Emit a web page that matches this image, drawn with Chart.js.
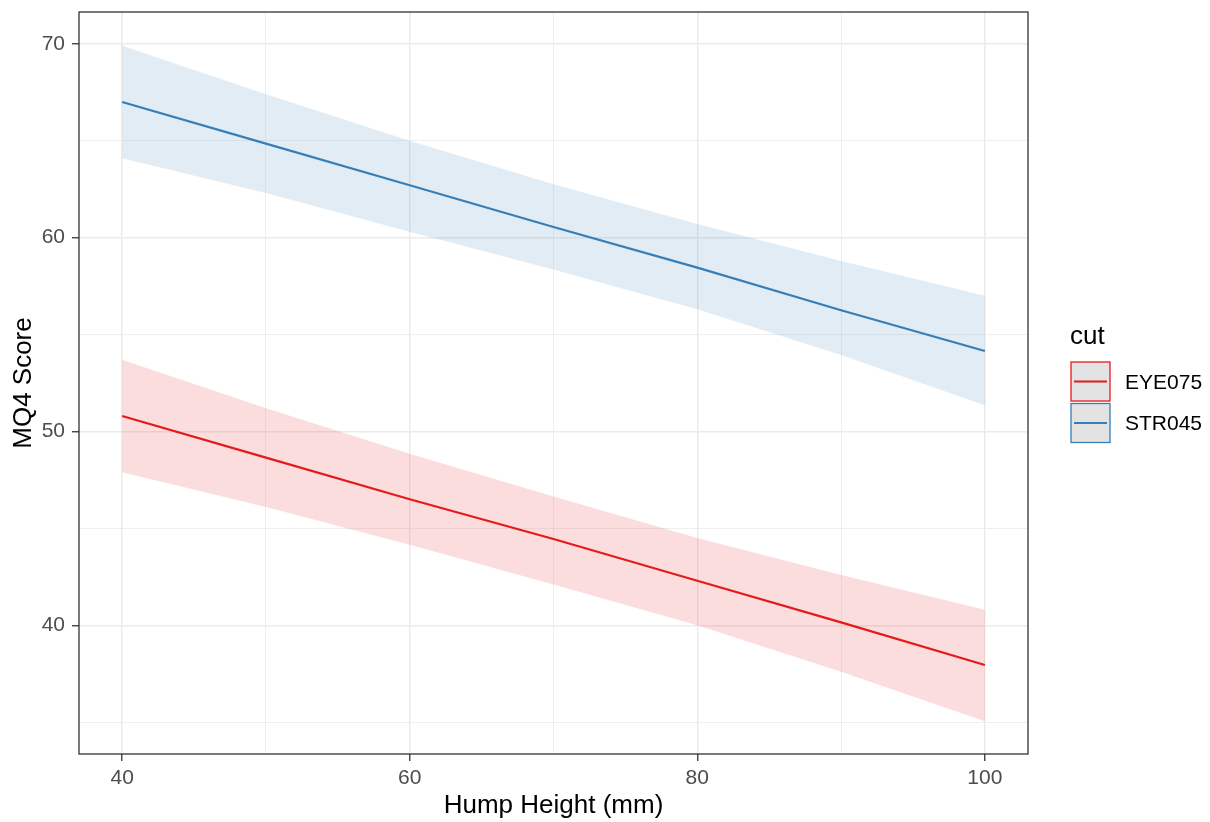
<!DOCTYPE html>
<html>
<head>
<meta charset="utf-8">
<script src="https://cdn.jsdelivr.net/npm/chart.js@4.4.1/dist/chart.umd.min.js"></script>
<style>
  html, body { margin: 0; padding: 0; background: #fff; }
  #wrap { width: 1210px; height: 822px; }
</style>
</head>
<body>
<div id="wrap"><canvas id="mq4Chart" width="1210" height="822"></canvas></div>
<script>
// Hump height (mm) at which the fitted values were read
const hump = [40, 50, 60, 70, 80, 90, 100];

// STR045: fitted line and confidence band
const strFit   = [67.0, 64.85, 62.7, 60.55, 58.45, 56.25, 54.15];
const strUpper = [69.9, 67.4, 65.0, 62.75, 60.7, 58.8, 57.0];
const strLower = [64.1, 62.3, 60.3, 58.35, 56.3, 53.95, 51.35];

// EYE075: fitted line and confidence band
const eyeFit   = [50.8, 48.65, 46.5, 44.45, 42.3, 40.15, 37.95];
const eyeUpper = [53.7, 51.2, 48.85, 46.65, 44.5, 42.6, 40.8];
const eyeLower = [47.9, 46.1, 44.15, 42.1, 40.0, 37.6, 35.05];

const xTicks = [40, 50, 60, 70, 80, 90, 100];
const yTicks = [35, 40, 45, 50, 55, 60, 65, 70];

const legendTitle = 'cut';
const legendItems = [
    { label: 'EYE075', color: '#e41a1c' },
    { label: 'STR045', color: '#377eb8' }
];

const FONT = '"Liberation Sans", Arial, sans-serif';

function pts(ys) {
    return hump.map((x, i) => ({ x: x, y: ys[i] }));
}

// panel border drawn over the data, like theme_bw
const panelBorder = {
    id: 'panelBorder',
    afterDatasetsDraw(chart) {
        const a = chart.chartArea;
        const ctx = chart.ctx;
        ctx.save();
        ctx.strokeStyle = '#333333';
        ctx.lineWidth = 1.3;
        ctx.strokeRect(a.left, a.top, a.right - a.left, a.bottom - a.top);
        ctx.restore();
    }
};

// ggplot style legend on the right
const sideLegend = {
    id: 'sideLegend',
    afterDraw(chart) {
        const ctx = chart.ctx;
        ctx.save();
        ctx.fillStyle = '#000';
        ctx.font = '26px ' + FONT;
        ctx.textBaseline = 'middle';
        ctx.fillText(legendTitle, 1070, 337);

        legendItems.forEach((item, i) => {
            const top = 362 + i * 41.5;
            ctx.fillStyle = '#e3e3e3';
            ctx.fillRect(1071, top, 39, 39);
            ctx.strokeStyle = item.color;
            ctx.lineWidth = 1.3;
            ctx.strokeRect(1071, top, 39, 39);
            ctx.beginPath();
            ctx.moveTo(1074, top + 19.5);
            ctx.lineTo(1107, top + 19.5);
            ctx.lineWidth = 2;
            ctx.stroke();
            ctx.fillStyle = '#000';
            ctx.font = '21px ' + FONT;
            ctx.fillText(item.label, 1125, top + 21);
        });
        ctx.restore();
    }
};

const isMajorX = v => v % 20 === 0;
const isMajorY = v => v % 10 === 0;

new Chart(document.getElementById('mq4Chart'), {
    type: 'line',
    data: {
        datasets: [
            {
                label: 'STR045 upper',
                data: pts(strUpper),
                borderWidth: 0,
                pointRadius: 0,
                fill: '+1',
                backgroundColor: 'rgba(55, 126, 184, 0.15)'
            },
            {
                label: 'STR045 lower',
                data: pts(strLower),
                borderWidth: 0,
                pointRadius: 0,
                fill: false
            },
            {
                label: 'EYE075 upper',
                data: pts(eyeUpper),
                borderWidth: 0,
                pointRadius: 0,
                fill: '+1',
                backgroundColor: 'rgba(228, 26, 28, 0.15)'
            },
            {
                label: 'EYE075 lower',
                data: pts(eyeLower),
                borderWidth: 0,
                pointRadius: 0,
                fill: false
            },
            {
                label: 'EYE075',
                data: pts(eyeFit),
                borderColor: '#e41a1c',
                borderWidth: 2.2,
                pointRadius: 0,
                fill: false
            },
            {
                label: 'STR045',
                data: pts(strFit),
                borderColor: '#377eb8',
                borderWidth: 2.2,
                pointRadius: 0,
                fill: false
            }
        ]
    },
    options: {
        responsive: false,
        animation: false,
        layout: {
            padding: { top: 12, right: 182, left: 0, bottom: 0 }
        },
        plugins: {
            legend: { display: false },
            tooltip: { enabled: false }
        },
        scales: {
            x: {
                type: 'linear',
                min: 37,
                max: 103,
                afterBuildTicks: scale => {
                    scale.ticks = xTicks.map(v => ({ value: v }));
                },
                afterFit: scale => {
                    scale.height = 68;
                    scale.paddingLeft = 0;
                    scale.paddingRight = 0;
                },
                border: { display: false },
                grid: {
                    color: '#ebebeb',
                    lineWidth: ctx => isMajorX(ctx.tick.value) ? 1.5 : 0.8,
                    tickLength: 7,
                    tickColor: ctx => isMajorX(ctx.tick.value) ? '#333333' : 'rgba(0,0,0,0)',
                    tickWidth: 1.3
                },
                ticks: {
                    padding: 5,
                    color: '#4d4d4d',
                    font: { family: FONT, size: 21 },
                    maxRotation: 0,
                    autoSkip: false,
                    callback: v => isMajorX(v) ? String(v) : ''
                },
                title: {
                    display: true,
                    text: 'Hump Height (mm)',
                    color: '#000',
                    font: { family: FONT, size: 26 },
                    padding: { top: 0, bottom: 1 }
                }
            },
            y: {
                type: 'linear',
                min: 33.36,
                max: 71.64,
                afterBuildTicks: scale => {
                    scale.ticks = yTicks.map(v => ({ value: v }));
                },
                afterFit: scale => {
                    scale.width = 79;
                    scale.paddingTop = 0;
                    scale.paddingBottom = 0;
                },
                border: { display: false },
                grid: {
                    color: '#ebebeb',
                    lineWidth: ctx => isMajorY(ctx.tick.value) ? 1.5 : 0.8,
                    tickLength: 7,
                    tickColor: ctx => isMajorY(ctx.tick.value) ? '#333333' : 'rgba(0,0,0,0)',
                    tickWidth: 1.3
                },
                ticks: {
                    padding: 7,
                    color: '#4d4d4d',
                    font: { family: FONT, size: 21 },
                    autoSkip: false,
                    callback: v => isMajorY(v) ? String(v) : ''
                },
                title: {
                    display: true,
                    text: 'MQ4 Score',
                    color: '#000',
                    font: { family: FONT, size: 26 },
                    padding: { top: 8, bottom: 0 }
                }
            }
        }
    },
    plugins: [panelBorder, sideLegend]
});
</script>
</body>
</html>
